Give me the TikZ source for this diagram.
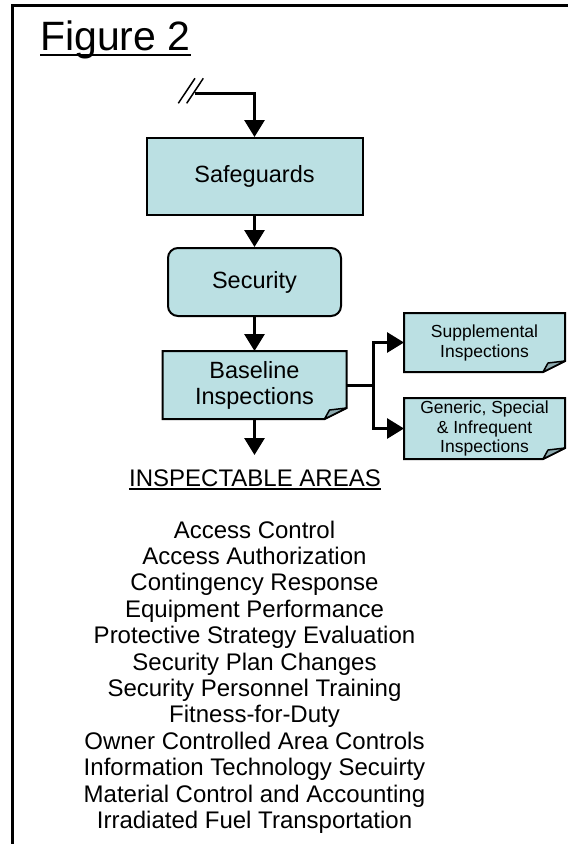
\documentclass[tikz,border=0pt]{standalone}
\usepackage{fontspec}
\setmainfont{Liberation Sans}
\usetikzlibrary{arrows.meta, backgrounds}
\usepackage{xcolor}
\definecolor{boxblue}{RGB}{187,224,227}
\definecolor{foldblue}{RGB}{140,170,175}
\def\listsep{26.4}

\begin{document}
\begin{tikzpicture}[x=1pt, y=1pt, >={Triangle[length=17pt,width=20pt]}]
    \tikzstyle{box}=[draw=black, fill=boxblue, line width=2pt, inner sep=0pt, align=center, font=\fontsize{23.5}{26}\selectfont]
    \tikzstyle{doc}=[inner sep=0pt, outer sep=0pt, align=center]
    \tikzstyle{docline}=[draw=black, fill=boxblue, line width=2pt]
    \tikzstyle{fold}=[draw=black, fill=foldblue, line width=1.5pt, line join=round]
    \tikzstyle{link}=[->, line width=3pt]
    \tikzstyle{area}=[anchor=base, inner sep=0pt, font=\fontsize{24}{26}\selectfont]

    \useasboundingbox (0,0) rectangle (568,-844);
    % frame round the figure
    \draw[line width=3pt] (12,-844) -- (12,-5.3) -- (568,-5.3);

    \node[anchor=base west, inner sep=0pt, font=\fontsize{41}{41}\selectfont] (title) at (40,-50) {Figure 2};
    \draw[line width=2.5pt] ([yshift=-5pt]title.base west) -- ([yshift=-5pt]title.base east);

    % the boxes
    \node[box, minimum width=216pt, minimum height=77pt] (safeguards) at (254.5,-176.5) {Safeguards};
    \node[box, rounded corners=10pt, minimum width=173pt, minimum height=68pt] (security) at (254.5,-282) {Security};
    \node[doc, minimum width=184pt, minimum height=68pt, font=\fontsize{23.5}{26}\selectfont] (baseline) at (254.5,-385) {Baseline\\Inspections};
    \node[doc, minimum width=161pt, minimum height=59pt, font=\fontsize{17.5}{20}\selectfont] (supp) at (484.5,-342.5) {Supplemental\\Inspections};
    \node[doc, minimum width=161pt, minimum height=61pt, font=\fontsize{17.5}{19.5}\selectfont] (generic) at (484.5,-428.5) {Generic, Special\\\& Infrequent\\Inspections};

    \begin{scope}[on background layer]
    \draw[docline] (baseline.north west) -- (baseline.north east) -- ([yshift=11pt]baseline.south east) -- ([xshift=-22pt]baseline.south east) -- (baseline.south west) -- cycle;
    \draw[docline] (supp.north west) -- (supp.north east) -- ([yshift=11pt]supp.south east) -- ([xshift=-22pt]supp.south east) -- (supp.south west) -- cycle;
    \draw[docline] (generic.north west) -- (generic.north east) -- ([yshift=11pt]generic.south east) -- ([xshift=-22pt]generic.south east) -- (generic.south west) -- cycle;
    \end{scope}
    % folded corners
    \draw[fold] ([xshift=-22pt]baseline.south east) -- ([xshift=-17pt,yshift=9pt]baseline.south east) -- ([yshift=11pt]baseline.south east) -- cycle;
    \draw[fold] ([xshift=-22pt]supp.south east) -- ([xshift=-17pt,yshift=9pt]supp.south east) -- ([yshift=11pt]supp.south east) -- cycle;
    \draw[fold] ([xshift=-22pt]generic.south east) -- ([xshift=-17pt,yshift=9pt]generic.south east) -- ([yshift=11pt]generic.south east) -- cycle;

    % connectors
    \coordinate (brk) at (195,-93.3);
    \draw[line width=1.5pt] (178.3,-103.3) -- (195,-78.3);
    \draw[line width=1.5pt] (186.7,-103.3) -- (203.3,-78.3);
    \draw[link] (brk) -| (safeguards.north);
    \draw[link] (safeguards) -- (security);
    \draw[link] (security) -- (baseline);
    \draw[line width=3pt] (baseline.east) -- ++(27,0) coordinate (split);
    \draw[link] (split) |- (supp.west);
    \draw[link] (split) |- (generic.west);
    \coordinate (areas-top) at (254.5,-455);
    \draw[link] (baseline) -- (areas-top);

    % inspectable areas
    \node[area] (areas) at (255,-486) {INSPECTABLE AREAS};
    \draw[line width=2pt] ([yshift=-2.5pt]areas.base west) -- ([yshift=-2.5pt]areas.base east);
    \foreach \txt [count=\i from 0] in {Access Control,
        Access Authorization,
        Contingency Response,
        Equipment Performance,
        Protective Strategy Evaluation,
        Security Plan Changes,
        Security Personnel Training,
        Fitness-for-Duty,
        Owner Controlled Area Controls,
        Information Technology Secuirty,
        Material Control and Accounting,
        Irradiated Fuel Transportation}
        \node[area] (area-\i) at (254.5,{-538-\listsep*\i}) {\txt};
\end{tikzpicture}
\end{document}
